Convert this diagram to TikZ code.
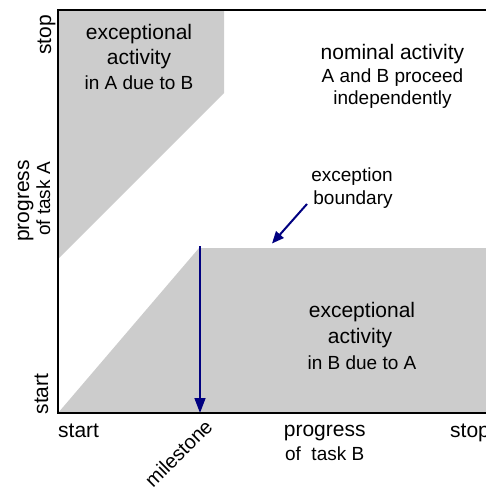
\documentclass[tikz,border=0pt]{standalone}
\usepackage{fontspec}
\setmainfont{Liberation Sans}
\usetikzlibrary{arrows.meta}
\definecolor{zonegray}{HTML}{CCCCCC}
\definecolor{arrownavy}{HTML}{000080}
\begin{document}
\begin{tikzpicture}[x=1pt,y=-1pt,
  big/.style={font=\fontsize{21}{25}\selectfont, inner sep=0pt, anchor=base},
  small/.style={font=\fontsize{19}{23}\selectfont, inner sep=0pt, anchor=base},
  axisline/.style={line width=2.5pt, line cap=rect},
  zone/.style={fill=zonegray, draw=none},
  msarrow/.style={draw=arrownavy, line width=1.5pt, -{Triangle[length=15pt,width=11pt]}},
  bndarrow/.style={draw=arrownavy, line width=2pt, -{Triangle[length=12pt,width=10pt]}}]
\useasboundingbox (0,0) rectangle (486,487);
\clip (0,0) rectangle (486,487);

% corners of the plot area (right side runs off the page)
\coordinate (tl) at (58,10);
\coordinate (bl) at (58,413);
\coordinate (tr) at (490,10);
\coordinate (br) at (490,413);

% exceptional regions
\fill[zone] (tl) -- (224,10) -- (224,93) -- (58,259) -- cycle;
\fill[zone] (bl) -- (199,248) -- (490,248) -- (br) -- cycle;

% milestone marker and exception boundary pointer
\coordinate (msTop) at (200,246);
\coordinate (msFoot) at (200,413);
\draw[msarrow] (msTop) -- (msFoot);
\coordinate (ebTail) at (307,204);
\coordinate (ebTip) at (272,243.5);
\draw[bndarrow] (ebTail) -- (ebTip);

% axes
\draw[axisline] (tr) -- (tl) -- (bl) -- (br);

% vertical axis labels
\node[big, rotate=90] (stopA) at (51,35) {stop};
\node[big, rotate=90] (progA) at (29,201) {progress};
\node[small, rotate=90] (taskA) at (50,199) {of task A};
\node[big, rotate=90] (startA) at (48,394) {start};

% horizontal axis labels
\node[big, anchor=base west] (startB) at (58,437) {start};
\node[big] (progB) at (324.7,436.7) {progress};
\node[small] (taskB) at (324.7,460) {of~~task B};
\node[big, anchor=base west] (stopB) at (450,437) {stop};
\node[font=\fontsize{20}{24}\selectfont, inner sep=0pt, anchor=base, rotate=45] (milestone) at (183.5,458.5) {milestone};

% region captions
\node[big] (exA1) at (139,39.3) {exceptional};
\node[big] (exA2) at (139,65) {activity};
\node[small] (exA3) at (139,89.3) {in A due to B};

\node[big] (nom1) at (392.5,59.3) {nominal activity};
\node[small] (nom2) at (392.5,82.7) {A and B proceed};
\node[small] (nom3) at (392.5,104) {independently};

\node[big] (exB1) at (362,317.3) {exceptional};
\node[big] (exB2) at (360,343.3) {activity};
\node[small] (exB3) at (362,369) {in B due to A};

\node[small] (bnd1) at (352,181) {exception};
\node[small] (bnd2) at (353,204) {boundary};
\end{tikzpicture}
\end{document}
